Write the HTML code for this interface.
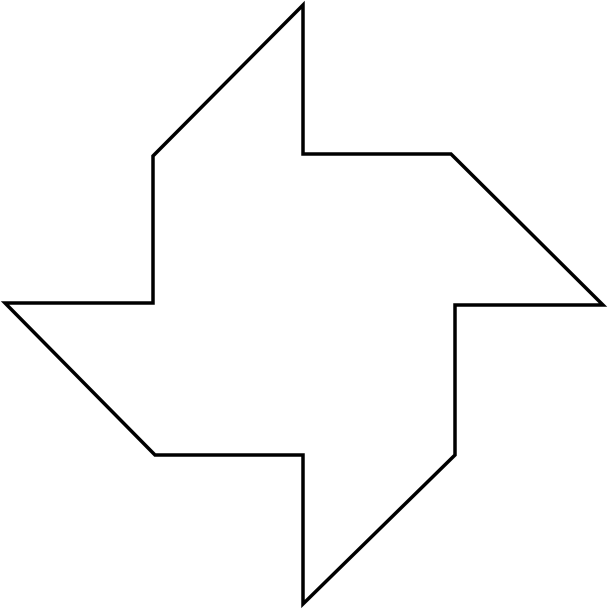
<!DOCTYPE html>
<html>
<head>
<meta charset="utf-8">
<style>
  html, body { margin: 0; padding: 0; background: #ffffff; }
  svg { display: block; }
</style>
</head>
<body>
<svg width="608" height="610" viewBox="0 0 608 610">
  <rect x="0" y="0" width="608" height="610" fill="#ffffff"/>
  <polygon
    points="303,5 303,154 451,154 603,305 455,305 455,455 303,604 303,455 155,455 5,303 153,303 153,156"
    fill="none" stroke="#000000" stroke-width="3.5" stroke-linejoin="miter"/>
</svg>
</body>
</html>
